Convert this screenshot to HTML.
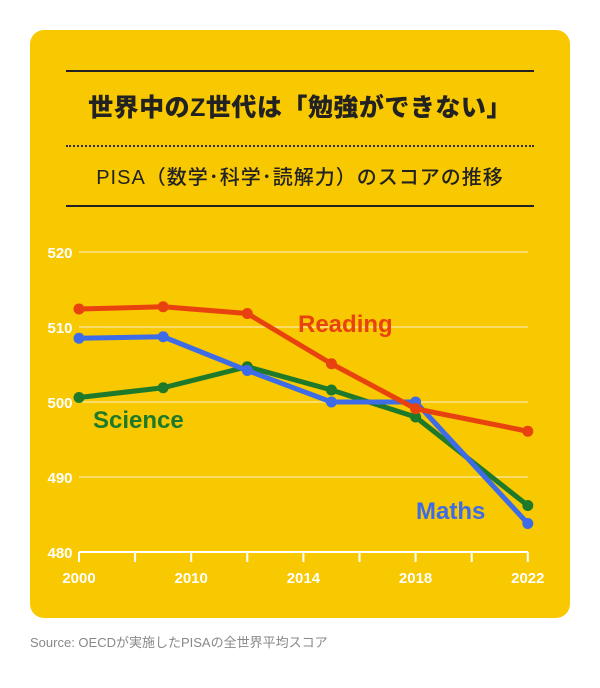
<!DOCTYPE html>
<html><head><meta charset="utf-8"><style>
body{margin:0;background:#fff;width:600px;height:688px;position:relative;font-family:"Liberation Sans","Noto Sans CJK JP",sans-serif;overflow:hidden}
.card{position:absolute;left:30px;top:30px;width:540px;height:588px;background:#F8C800;border-radius:14px}
.rule{position:absolute;left:66px;width:468px;height:2px;background:#222}
.title{position:absolute;left:30px;width:540px;top:88px;text-align:center;font-size:25px;font-weight:900;color:#222;letter-spacing:0.5px}
.sub{position:absolute;left:30px;width:540px;top:161px;text-align:center;font-size:20px;color:#222;letter-spacing:1px;font-weight:500}
.dots{position:absolute;left:66px;width:468px;top:145px;border-top:2px dotted #333}
.src{position:absolute;left:30px;top:632px;font-size:13px;color:#888}
svg{position:absolute;left:0;top:0}
</style></head><body>
<div class="card"></div>
<div class="rule" style="top:70px"></div>
<div class="title">世界中のZ世代は「勉強ができない」</div>
<div class="dots"></div>
<div class="sub">PISA（数学･科学･読解力）のスコアの推移</div>
<div class="rule" style="top:205px"></div>
<div class="src">Source: OECDが実施したPISAの全世界平均スコア</div>
<svg id="chart" width="600" height="688"></svg>
<script>
const years=['2000','2009','2012','2015','2018','2022'];
const slots=[0,1.5,3,4.5,6,8];
const reading=[512.4,512.7,511.8,505.1,499.1,496.1];
const maths=[508.5,508.7,504.2,500,500,483.8];
const science=[500.6,501.9,504.7,501.6,498,486.2];
const yTicks=[480,490,500,510,520];
const xLabels=['2000','2010','2014','2018','2022'];
const xLabelSlots=[0,2,4,6,8];
const NS='http://www.w3.org/2000/svg';
const svg=document.getElementById('chart');
const x=s=>79+s*56.1;
const y=v=>552-(v-480)*7.5;
function mk(t,a){const e=document.createElementNS(NS,t);for(const k in a)e.setAttribute(k,a[k]);svg.appendChild(e);return e;}
yTicks.forEach(v=>{
  if(v>480){const g=mk('line',{x1:79,x2:528,y1:y(v),y2:y(v),stroke:'#FBE38A','stroke-width':1.5});
  
  }
  const t=mk('text',{x:60,y:y(v)+6,'text-anchor':'middle','font-size':15,'font-weight':'bold',fill:'#fff','font-family':'Liberation Sans, sans-serif'});
  t.textContent=v;
  
  
});
const ax=mk('line',{x1:79,x2:528,y1:552,y2:552,stroke:'#fff','stroke-width':2});


for(let i=0;i<=8;i++){const tk=mk('line',{x1:x(i),x2:x(i),y1:552,y2:562,stroke:'#fff','stroke-width':2});

}
xLabels.forEach((l,i)=>{const t=mk('text',{x:x(xLabelSlots[i]),y:583,'text-anchor':'middle','font-size':15,'font-weight':'bold',fill:'#fff','font-family':'Liberation Sans, sans-serif'});
t.textContent=l;

});
function series(vals,color,name){
  const p=mk('polyline',{points:vals.map((v,i)=>x(slots[i])+','+y(v)).join(' '),fill:'none',stroke:color,'stroke-width':5,'stroke-linejoin':'round'});
  
  
  vals.forEach((v,i)=>{const c=mk('circle',{cx:x(slots[i]),cy:y(v),r:5.5,fill:color});
  
  });
}
series(science,'#1E7A2A','science');
series(maths,'#3E6BE6','maths');
series(reading,'#E8420F','reading');
function lab(txt,lx,ly,color,name){const t=mk('text',{x:lx,y:ly,'font-size':24,'font-weight':'bold',fill:color,'font-family':'Liberation Sans, sans-serif'});
t.textContent=txt;

}
lab('Reading',298,332,'#E8420F','reading-label');
lab('Science',93,428,'#1E7A2A','science-label');
lab('Maths',416,519,'#3E6BE6','maths-label');
</script>
</body></html>
